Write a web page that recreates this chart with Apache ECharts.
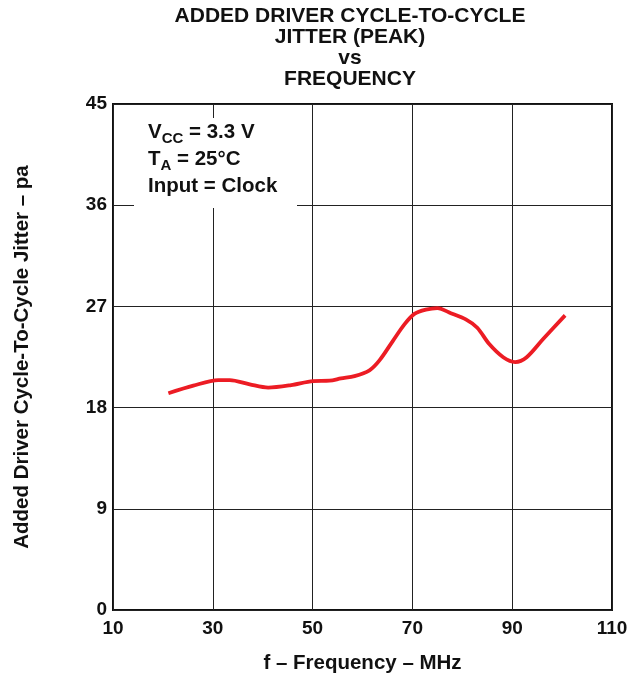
<!DOCTYPE html>
<html><head><meta charset="utf-8">
<script src="https://cdn.jsdelivr.net/npm/echarts@6/dist/echarts.min.js"></script>
<style>html,body{margin:0;padding:0;background:#fff}#c{width:642px;height:677px}</style>
</head><body><div id="c"></div>
<script>
const titleLines = ['ADDED DRIVER CYCLE-TO-CYCLE', 'JITTER (PEAK)', 'vs', 'FREQUENCY'];
const xAxisTitle = 'f \u2013 Frequency \u2013 MHz';
const yAxisTitle = 'Added Driver Cycle-To-Cycle Jitter \u2013 pa';
const xTicks = [10, 30, 50, 70, 90, 110];
const yTicks = [0, 9, 18, 27, 36, 45];
const freqMHz = [21.1, 26.1, 31.1, 33.4, 37.4, 41.1, 45.7, 50.1, 53.4, 55.7, 58.4, 61.4, 63.4, 66.1, 68.4, 70.4, 72.7, 75.0, 77.7, 80.7, 83.0, 85.4, 88.2, 90.6, 92.9, 96.2, 100.6];
const jitter = [19.28, 19.95, 20.45, 20.45, 20.07, 19.78, 20.0, 20.36, 20.39, 20.6, 20.8, 21.32, 22.2, 23.94, 25.4, 26.33, 26.71, 26.85, 26.4, 25.84, 25.1, 23.65, 22.48, 22.05, 22.48, 24.1, 26.2];

const FONT = '"Liberation Sans", Arial, sans-serif';
const chart = echarts.init(document.getElementById('c'), null, {renderer: 'canvas'});
const L = 113, T = 104, W = 499, H = 506;
chart.setOption({
  animation: false,
  backgroundColor: '#fff',
  grid: {left: L, top: T, width: W, height: H, show: true, borderColor: '#111', borderWidth: 2,
    backgroundColor: 'transparent', containLabel: false, outerBoundsMode: 'none'},
  xAxis: {
    type: 'value', min: xTicks[0], max: xTicks[xTicks.length - 1], interval: 20,
    axisLine: {show: false}, axisTick: {show: false},
    splitLine: {show: true, lineStyle: {color: '#222', width: 1}},
    axisLabel: {color: '#111', fontFamily: FONT, fontWeight: 'bold', fontSize: 19, margin: 9,
      formatter: v => xTicks.includes(v) ? String(v) : ''},
    name: xAxisTitle, nameLocation: 'middle', nameGap: 43,
    nameTextStyle: {color: '#111', fontFamily: FONT, fontWeight: 'bold', fontSize: 20.5}
  },
  yAxis: {
    type: 'value', min: yTicks[0], max: yTicks[yTicks.length - 1], interval: 9,
    axisLine: {show: false}, axisTick: {show: false},
    splitLine: {show: true, lineStyle: {color: '#222', width: 1}},
    axisLabel: {color: '#111', fontFamily: FONT, fontWeight: 'bold', fontSize: 19, margin: 6,
      formatter: v => yTicks.includes(v) ? String(v) : ''},
    name: yAxisTitle, nameLocation: 'middle', nameGap: 80, nameRotate: 90,
    nameTextStyle: {color: '#111', fontFamily: FONT, fontWeight: 'bold', fontSize: 20.5}
  },
  series: [{
    type: 'line', data: freqMHz.map((f, i) => [f, jitter[i]]),
    smooth: 0.3, showSymbol: false, symbol: 'none',
    lineStyle: {color: '#ec1c24', width: 3.8}, z: 5
  }],
  graphic: [
    {type: 'text', x: 350, y: 6, style: {text: titleLines.join('\n'), fill: '#111', font: 'bold 21px ' + FONT, lineHeight: 21, align: 'center'}},
    {type: 'rect', shape: {x: 134, y: 118, width: 163, height: 90}, style: {fill: '#fff'}, z: 10},
    {type: 'text', x: 148, y: 119, z: 11, style: {
      text: '{m|V}{s|CC}{m| = 3.3 V}\n{m|T}{s|A}{m| = 25\u00b0C}\n{m|Input = Clock}',
      rich: {
        m: {font: 'bold 20.5px ' + FONT, fill: '#111', lineHeight: 27, verticalAlign: 'middle'},
        s: {font: 'bold 15px ' + FONT, fill: '#111', lineHeight: 27, verticalAlign: 'bottom'}
      }
    }}
  ]
});
</script></body></html>
